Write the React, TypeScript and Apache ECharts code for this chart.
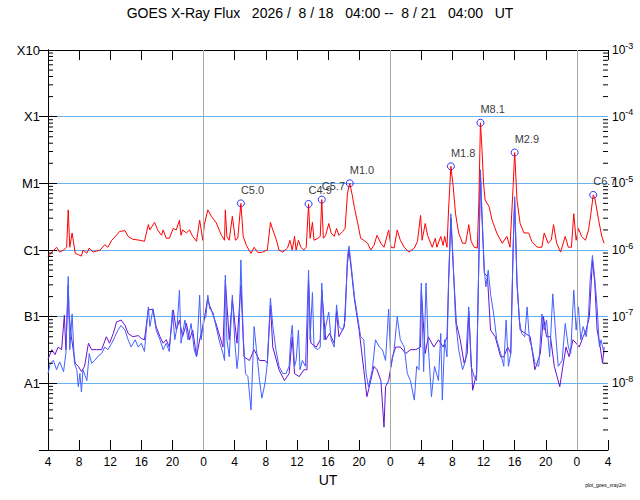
import React, { useRef, useEffect } from 'react';
import * as echarts from 'echarts';

// hours after 2026/8/18 04:00 UT, flux in W/m^2
const titleText = 'GOES X-Ray Flux   2026 /  8 / 18   04:00 --  8 / 21   04:00   UT';
const startHour = 4;
const dayStarts = [20, 44, 68];
const classNames = ['X10', 'X1', 'M1', 'C1', 'B1', 'A1', ''];
const powerNames = ['-3', '-4', '-5', '-6', '-7', '-8', ''];

// long channel (1-8 A), red
const longFlux = [
  [0.0, 7.9e-7], [0.5, 9.3e-7], [1.1, 1.1e-6], [1.5, 9.3e-7], [2.0, 1.0e-6], [2.4, 1.1e-6], [2.6, 4.0e-6],
  [2.8, 1.1e-6], [3.1, 1.8e-6], [3.5, 8.9e-7], [3.9, 8.5e-7], [4.3, 8.1e-7], [4.5, 1.0e-6], [5.0, 8.9e-7],
  [5.3, 1.07e-6], [5.8, 9.3e-7], [6.7, 1.0e-6], [7.3, 1.2e-6], [7.7, 1.1e-6], [8.2, 1.4e-6], [8.8, 1.66e-6],
  [9.2, 1.9e-6], [9.9, 1.95e-6], [10.3, 1.6e-6], [10.9, 1.45e-6], [11.8, 1.4e-6], [12.4, 1.35e-6], [12.9, 2.4e-6],
  [13.1, 2.0e-6], [13.7, 2.6e-6], [14.1, 2.0e-6], [14.6, 1.66e-6], [14.8, 2.0e-6], [15.2, 1.5e-6], [15.6, 1.5e-6],
  [16.1, 2.1e-6], [16.5, 2.0e-6], [16.9, 2.8e-6], [17.1, 1.66e-6], [17.3, 2.0e-6], [17.8, 1.8e-6], [18.2, 2.0e-6],
  [18.6, 1.6e-6], [19.1, 1.35e-6], [19.5, 2.8e-6], [19.7, 2.0e-6], [19.9, 1.4e-6], [20.1, 2.4e-6], [20.55, 4.0e-6],
  [21.0, 3.2e-6], [21.6, 2.6e-6], [22.3, 1.66e-6], [22.7, 1.4e-6], [22.8, 4.0e-6], [23.0, 1.6e-6], [23.3, 1.4e-6],
  [23.7, 3.2e-6], [24.1, 1.4e-6], [24.4, 1.5e-6], [24.8, 5.0e-6], [25.1, 1.6e-6], [25.5, 1.17e-6], [26.1, 8.9e-7],
  [26.5, 1.1e-6], [27.0, 9.1e-7], [27.6, 9.3e-7], [28.2, 1.0e-6], [28.6, 2.6e-6], [28.9, 2.0e-6], [29.3, 1.5e-6],
  [29.7, 1.0e-6], [30.2, 9.3e-7], [30.8, 1.07e-6], [31.1, 1.4e-6], [31.4, 1.0e-6], [31.7, 1.6e-6], [31.9, 1.0e-6],
  [32.2, 1.4e-6], [32.5, 1.1e-6], [32.9, 1.0e-6], [33.2, 1.1e-6], [33.5, 4.9e-6], [33.7, 1.5e-6], [34.0, 2.6e-6],
  [34.2, 1.4e-6], [34.7, 1.5e-6], [35.0, 1.6e-6], [35.2, 5.7e-6], [35.4, 1.5e-6], [35.7, 1.66e-6], [36.1, 2.5e-6],
  [36.4, 1.8e-6], [36.8, 1.6e-6], [37.1, 2.1e-6], [37.4, 1.66e-6], [37.9, 1.9e-6], [38.2, 2.1e-6], [38.5, 7.1e-6],
  [38.8, 1.0e-5], [39.1, 6.8e-6], [39.4, 4.3e-6], [39.8, 2.6e-6], [40.2, 1.5e-6], [40.6, 1.4e-6], [41.1, 1.26e-6],
  [41.5, 1.0e-6], [41.9, 1.17e-6], [42.3, 1.66e-6], [42.8, 1.26e-6], [43.2, 1.1e-6], [43.8, 2.0e-6], [44.1, 1.1e-6],
  [44.5, 1.07e-6], [44.9, 2.0e-6], [45.3, 1.4e-6], [45.8, 1.1e-6], [46.4, 9.3e-7], [47.1, 1.07e-6], [47.5, 1.35e-6],
  [47.9, 3.3e-6], [48.1, 1.4e-6], [48.5, 2.5e-6], [48.8, 1.66e-6], [49.4, 1.1e-6], [49.8, 1.5e-6], [50.0, 1.1e-6],
  [50.5, 1.6e-6], [50.8, 1.17e-6], [51.0, 1.6e-6], [51.3, 1.1e-6], [51.5, 4.0e-6], [51.8, 1.8e-5], [52.1, 8.9e-6],
  [52.4, 3.5e-6], [52.8, 1.8e-6], [53.3, 1.26e-6], [53.7, 1.26e-6], [54.1, 2.4e-6], [54.4, 1.35e-6], [54.8, 1.1e-6],
  [55.2, 1.07e-6], [55.4, 5.6e-6], [55.6, 8.1e-5], [55.8, 3.2e-5], [56.0, 1.0e-5], [56.2, 5.6e-6], [56.7, 4.5e-6],
  [57.1, 2.8e-6], [57.7, 1.8e-6], [58.4, 1.26e-6], [59.0, 1.6e-6], [59.4, 1.1e-6], [59.8, 8.9e-6], [60.0, 2.9e-5],
  [60.3, 5.6e-6], [60.7, 2.5e-6], [61.2, 1.8e-6], [61.8, 1.8e-6], [62.2, 1.35e-6], [62.9, 1.1e-6], [63.5, 1.1e-6],
  [63.8, 1.8e-6], [64.3, 1.26e-6], [64.7, 1.4e-6], [65.0, 2.4e-6], [65.4, 1.26e-6], [65.9, 9.3e-7], [66.5, 1.6e-6],
  [66.9, 1.1e-6], [67.3, 1.1e-6], [67.6, 3.5e-6], [67.9, 1.4e-6], [68.2, 2.1e-6], [68.6, 1.6e-6], [69.1, 1.4e-6],
  [69.5, 2.0e-6], [69.8, 3.5e-6], [70.1, 6.7e-6], [70.3, 6.0e-6], [70.8, 2.8e-6], [71.2, 1.6e-6], [71.5, 1.26e-6],
];

// short channel (0.5-4 A), blue
const shortFlux = [
  [0.0, 1.4e-8], [0.3, 2.0e-8], [0.7, 2.2e-8], [1.1, 1.6e-8], [1.5, 2.1e-8], [2.0, 1.5e-8], [2.3, 2.8e-8],
  [2.6, 4.0e-7], [2.8, 3.2e-8], [3.1, 1.1e-7], [3.4, 2.0e-8], [3.7, 1.6e-8], [3.9, 8.9e-9], [4.1, 1.4e-8],
  [4.3, 7.4e-9], [4.5, 1.6e-8], [5.0, 1.1e-8], [5.3, 2.8e-8], [5.6, 2.0e-8], [6.0, 2.2e-8], [6.5, 2.6e-8],
  [6.9, 2.8e-8], [7.3, 3.5e-8], [7.7, 3.2e-8], [8.2, 4.0e-8], [8.6, 5.0e-8], [9.0, 6.3e-8], [9.4, 7.4e-8],
  [9.9, 6.3e-8], [10.3, 4.5e-8], [10.7, 3.5e-8], [11.2, 4.5e-8], [11.6, 3.5e-8], [12.0, 4.0e-8], [12.4, 3.0e-8],
  [12.9, 1.4e-7], [13.1, 7.1e-8], [13.5, 1.3e-7], [13.9, 6.3e-8], [14.4, 4.5e-8], [14.8, 3.2e-8], [15.2, 4.0e-8],
  [15.6, 3.0e-8], [16.0, 1.26e-7], [16.3, 4.5e-8], [16.6, 7.1e-8], [16.9, 2.5e-7], [17.1, 4.0e-8], [17.6, 8.9e-8],
  [18.0, 4.5e-8], [18.4, 7.9e-8], [18.8, 3.2e-8], [19.1, 2.5e-8], [19.5, 2.1e-7], [19.7, 4.5e-8], [20.0, 8.9e-8],
  [20.3, 1.0e-7], [20.55, 2.1e-7], [20.8, 1.3e-7], [21.2, 1.17e-7], [21.6, 7.1e-8], [22.1, 4.0e-8], [22.5, 2.8e-8],
  [22.7, 2.2e-8], [22.8, 4.2e-7], [23.0, 4.5e-8], [23.3, 2.5e-8], [23.7, 2.1e-7], [24.0, 4.5e-8], [24.3, 1.66e-8],
  [24.5, 2.8e-8], [24.8, 7.1e-7], [25.1, 5.0e-8], [25.4, 1.4e-8], [25.7, 1.26e-8], [26.1, 4.0e-9], [26.5, 7.1e-8],
  [26.8, 3.2e-8], [27.2, 1.1e-8], [27.5, 6.0e-9], [27.9, 1.0e-8], [28.2, 2.0e-8], [28.6, 1.9e-7], [28.9, 7.4e-8],
  [29.3, 3.2e-8], [29.7, 1.8e-8], [30.2, 1.4e-8], [30.6, 1.4e-8], [31.0, 1.8e-8], [31.2, 4.5e-8], [31.4, 7.4e-8],
  [31.7, 1.8e-8], [31.9, 2.2e-8], [32.2, 6.3e-8], [32.4, 1.6e-8], [32.7, 2.2e-8], [33.1, 1.8e-8], [33.5, 5.0e-7],
  [33.7, 4.5e-8], [34.0, 2.3e-7], [34.2, 3.5e-8], [34.7, 3.2e-8], [35.0, 3.5e-8], [35.2, 3.2e-7], [35.5, 4.5e-8],
  [35.7, 7.1e-8], [36.1, 1.17e-7], [36.4, 4.5e-8], [36.8, 3.5e-8], [37.1, 1.5e-7], [37.4, 7.1e-8], [37.9, 6.3e-8],
  [38.2, 8.9e-8], [38.5, 7.9e-7], [38.7, 1.15e-6], [39.0, 5.6e-7], [39.4, 2.0e-7], [39.8, 1.0e-7], [40.2, 5.0e-8],
  [40.6, 4.5e-8], [40.9, 1.4e-8], [41.2, 8.9e-9], [41.7, 1.6e-8], [42.1, 4.5e-8], [42.6, 3.5e-8], [43.0, 3.2e-8],
  [43.4, 2.2e-8], [43.8, 1.3e-7], [44.1, 1.8e-8], [44.5, 3.2e-8], [44.9, 1.0e-7], [45.3, 4.5e-8], [45.8, 3.5e-8],
  [46.2, 1.4e-8], [46.6, 1.1e-8], [47.1, 5.6e-9], [47.4, 1.8e-8], [47.7, 1.6e-8], [48.0, 3.2e-7], [48.3, 1.5e-8],
  [48.6, 3.2e-7], [48.9, 3.5e-8], [49.3, 6.3e-9], [49.7, 1.8e-8], [50.2, 1.1e-8], [50.5, 5.6e-8], [50.7, 5.6e-9],
  [51.0, 4.5e-8], [51.3, 2.5e-8], [51.5, 3.5e-7], [51.8, 3.5e-6], [52.1, 6.3e-7], [52.4, 8.9e-8], [52.8, 3.2e-8],
  [53.3, 1.6e-8], [53.7, 2.2e-8], [54.1, 1.4e-7], [54.4, 1.8e-8], [54.8, 1.26e-8], [55.1, 1.1e-8], [55.4, 7.9e-7],
  [55.6, 1.6e-5], [55.8, 3.5e-6], [56.1, 5.0e-7], [56.3, 2.8e-7], [56.6, 5.0e-7], [56.9, 2.2e-7], [57.3, 1.1e-7],
  [57.7, 4.5e-8], [58.2, 2.8e-8], [58.6, 1.8e-8], [58.9, 8.9e-8], [59.2, 1.8e-8], [59.5, 2.8e-8], [59.8, 1.1e-6],
  [60.0, 6.3e-6], [60.3, 3.5e-7], [60.6, 8.9e-8], [60.9, 5.6e-8], [61.3, 5.0e-8], [61.6, 1.4e-7], [61.9, 4.5e-8],
  [62.2, 3.5e-8], [62.6, 2.0e-8], [63.1, 1.8e-8], [63.5, 1.1e-7], [63.8, 6.3e-8], [64.1, 8.9e-8], [64.5, 2.5e-8],
  [64.9, 2.2e-7], [65.3, 5.0e-8], [65.6, 1.8e-8], [66.1, 2.2e-8], [66.5, 7.9e-8], [66.9, 3.5e-8], [67.2, 2.8e-8],
  [67.6, 2.5e-7], [67.9, 6.3e-8], [68.2, 1.4e-7], [68.5, 4.5e-8], [68.8, 7.1e-8], [69.2, 5.0e-8], [69.5, 1.1e-7],
  [69.7, 3.5e-7], [70.0, 8.3e-7], [70.3, 3.7e-7], [70.6, 1.4e-7], [70.9, 3.5e-8], [71.1, 4.5e-8], [71.5, 2.8e-8],
];

// short channel, second satellite, purple
const shortFlux2 = [
  [0.0, 2.3e-8], [0.5, 3.2e-8], [0.9, 2.7e-8], [1.3, 3.5e-8], [1.75, 3.2e-8], [2.1, 1.05e-7], [2.3, 3.2e-8],
  [2.6, 3.0e-7], [2.7, 1.1e-7], [3.0, 5.0e-8], [3.5, 2.0e-8], [3.9, 1.8e-8], [4.3, 1.5e-8], [4.7, 1.8e-8],
  [5.2, 4.0e-8], [5.6, 3.2e-8], [6.2, 3.2e-8], [6.9, 3.2e-8], [7.5, 5.0e-8], [7.9, 4.0e-8], [8.4, 5.6e-8],
  [8.8, 8.3e-8], [9.4, 8.9e-8], [9.9, 7.4e-8], [10.3, 5.6e-8], [10.9, 5.0e-8], [11.6, 5.2e-8], [12.0, 4.7e-8],
  [12.4, 4.5e-8], [12.9, 1.26e-7], [13.5, 1.3e-7], [13.9, 7.1e-8], [14.4, 5.0e-8], [14.8, 4.0e-8], [15.2, 4.5e-8],
  [15.6, 3.5e-8], [16.1, 1.26e-7], [16.5, 6.3e-8], [16.9, 8.9e-8], [17.3, 5.0e-8], [17.8, 7.9e-8], [18.2, 4.5e-8],
  [18.6, 6.3e-8], [19.1, 2.5e-8], [19.5, 4.5e-8], [20.0, 7.9e-8], [20.5, 1.8e-7], [21.0, 1.26e-7], [21.6, 7.9e-8],
  [22.1, 5.0e-8], [22.5, 3.5e-8], [22.8, 3.5e-7], [23.3, 4.5e-8], [23.7, 1.8e-7], [24.3, 4.0e-8], [24.8, 3.0e-7],
  [25.2, 2.5e-8], [25.9, 2.2e-8], [26.5, 3.2e-8], [27.2, 2.2e-8], [27.9, 2.2e-8], [28.2, 2.0e-8], [28.6, 1.5e-7],
  [28.9, 3.5e-8], [29.7, 1.6e-8], [30.4, 1.1e-8], [31.0, 1.4e-8], [31.4, 5.0e-8], [31.7, 1.4e-8], [32.3, 1.26e-8],
  [32.9, 1.6e-8], [33.3, 1.6e-8], [33.5, 3.5e-7], [33.8, 4.0e-8], [34.5, 3.5e-8], [35.0, 4.5e-8], [35.2, 2.5e-7],
  [35.7, 4.5e-8], [36.2, 5.6e-8], [36.8, 4.0e-8], [37.1, 1.2e-7], [37.4, 5.0e-8], [38.1, 7.1e-8], [38.5, 6.3e-7],
  [38.7, 1.0e-6], [39.0, 5.0e-7], [39.4, 1.8e-7], [40.0, 6.3e-8], [40.6, 1.6e-8], [41.0, 6.3e-9], [41.5, 1.1e-8],
  [41.9, 1.8e-8], [42.3, 1.6e-8], [42.8, 1.1e-8], [43.2, 2.2e-9], [43.4, 8.9e-9], [43.8, 1.1e-8], [44.3, 2.5e-8],
  [44.7, 3.5e-8], [45.3, 3.5e-8], [46.0, 2.8e-8], [46.6, 3.2e-8], [47.3, 3.2e-8], [47.9, 3.5e-8], [48.0, 2.5e-7],
  [48.5, 2.8e-8], [48.9, 5.0e-8], [49.6, 3.5e-8], [50.2, 4.5e-8], [50.8, 3.5e-8], [51.3, 5.0e-8], [51.5, 3.0e-7],
  [51.8, 3.0e-6], [52.1, 5.6e-7], [52.5, 8.0e-8], [53.0, 4.5e-8], [53.5, 2.0e-8], [53.9, 2.8e-8], [54.1, 1.2e-7],
  [54.6, 7.9e-9], [55.1, 1.4e-8], [55.4, 7.0e-7], [55.6, 1.4e-5], [55.8, 3.0e-6], [56.1, 4.5e-7], [56.5, 4.0e-7],
  [56.9, 6.3e-8], [57.5, 5.0e-8], [58.2, 2.5e-8], [58.6, 2.5e-8], [59.1, 3.5e-8], [59.5, 2.8e-8], [59.8, 1.0e-6],
  [60.0, 5.5e-6], [60.3, 3.0e-7], [60.7, 6.3e-8], [61.4, 5.6e-8], [62.0, 5.0e-8], [62.6, 1.6e-8], [63.3, 2.8e-8],
  [63.7, 1.0e-7], [64.1, 5.0e-8], [64.6, 5.0e-8], [65.1, 1.8e-8], [65.8, 8.9e-9], [66.2, 1.8e-8], [66.6, 3.5e-8],
  [67.0, 2.5e-8], [67.5, 4.5e-8], [67.9, 4.0e-8], [68.3, 3.5e-8], [68.8, 5.0e-8], [69.2, 6.3e-8], [69.6, 1.0e-7],
  [70.0, 7.0e-7], [70.3, 3.2e-7], [70.6, 6.3e-8], [71.0, 3.5e-8], [71.3, 2.0e-8], [71.5, 3.5e-8],
];

const flareHours = [24.8, 33.5, 35.2, 38.8, 51.8, 55.6, 60.0, 70.1];
const flareFlux = [5.0e-6, 4.9e-6, 5.7e-6, 1.0e-5, 1.8e-5, 8.1e-5, 2.9e-5, 6.7e-6];
const flareClass = ['C5.0', 'C4.9', 'C5.7', 'M1.0', 'M1.8', 'M8.1', 'M2.9', 'C6.7'];

const font = 'Liberation Sans, Arial, sans-serif';
const gridLeft = 48;
const gridRight = 32;

const decade = (v: number) => -3 - Math.round(Math.log10(v));

// minor log ticks (2..9 in each decade)
const minorTicks: number[] = [];
for (let e = -9; e < -3; e++) {
  for (let k = 2; k <= 9; k++) minorTicks.push(k * Math.pow(10, e));
}

const creditText = {
  type: 'text',
  id: 'credit',
  right: 14,
  bottom: 13,
  style: { text: 'plot_goes_xray2m', fontSize: 5, fontFamily: font, fill: '#000' },
};

const XrayChart = () => {
  const chartRef = useRef(null);

  useEffect(() => {
    document.body.style.margin = '0';
    const myChart = echarts.init(chartRef.current, null, { renderer: 'svg' });

    const yBase = {
      type: 'log',
      logBase: 10,
      min: 1e-9,
      max: 1e-3,
      axisLine: { show: true, lineStyle: { color: '#000', width: 1 } },
      axisTick: { show: true, inside: true, length: 9, lineStyle: { color: '#000', width: 1 } },
    };
    const xBase = {
      type: 'value',
      min: 0,
      max: 72,
      interval: 4,
      axisLine: { show: true, onZero: false, lineStyle: { color: '#000', width: 1 } },
      axisTick: { show: true, inside: true, length: 10, lineStyle: { color: '#000', width: 1 } },
      splitLine: { show: false },
    };

    const option = {
      animation: false,
      backgroundColor: '#fff',
      title: {
        text: titleText,
        left: 'center',
        top: 1,
        textStyle: { fontFamily: font, fontSize: 14, fontWeight: 'normal', color: '#000' },
      },
      grid: { left: gridLeft, right: gridRight, top: 50, bottom: 50 },
      xAxis: [
        {
          ...xBase,
          position: 'bottom',
          name: 'UT',
          nameLocation: 'middle',
          nameGap: 22,
          nameTextStyle: { fontFamily: font, fontSize: 14, color: '#000' },
          axisLabel: {
            color: '#000',
            fontFamily: font,
            fontSize: 12,
            margin: 6,
            formatter: (v: number) => String((v + startHour) % 24),
          },
        },
        { ...xBase, position: 'top', axisLabel: { show: false } },
      ],
      yAxis: [
        {
          ...yBase,
          position: 'left',
          splitLine: { show: true, lineStyle: { color: '#66b2f2', width: 1 } },
          axisLabel: {
            color: '#000',
            fontFamily: font,
            fontSize: 13,
            margin: 8,
            formatter: (v: number) => classNames[decade(v)] ?? '',
          },
        },
        {
          ...yBase,
          position: 'right',
          splitLine: { show: false },
          axisLabel: {
            color: '#000',
            fontFamily: font,
            fontSize: 12,
            margin: 4,
            formatter: (v: number) => {
              const p = powerNames[decade(v)];
              return p ? `10{sup|${p}}` : '';
            },
            rich: { sup: { fontFamily: font, fontSize: 9, padding: [0, 0, 9, 0], color: '#000' } },
          },
        },
      ],
      graphic: [creditText],
      series: [
        {
          name: 'short2',
          type: 'line',
          data: shortFlux2,
          showSymbol: false,
          symbol: 'none',
          lineStyle: { color: '#6a0fcf', width: 1 },
          markLine: {
            silent: true,
            symbol: 'none',
            label: { show: false },
            lineStyle: { color: '#a8a8a8', width: 1, type: 'solid' },
            data: dayStarts.map((d) => ({ xAxis: d })),
          },
        },
        {
          name: 'short',
          type: 'line',
          data: shortFlux,
          showSymbol: false,
          symbol: 'none',
          lineStyle: { color: '#4262ff', width: 1 },
        },
        {
          name: 'long',
          type: 'line',
          data: longFlux,
          showSymbol: false,
          symbol: 'none',
          lineStyle: { color: '#ff0000', width: 1 },
        },
        {
          name: 'flares',
          type: 'scatter',
          data: flareHours.map((h, i) => [h, flareFlux[i]]),
          symbol: 'circle',
          symbolSize: 7,
          itemStyle: { color: 'rgba(0,0,0,0)', borderColor: '#0000ff', borderWidth: 1 },
          label: {
            show: true,
            position: 'top',
            align: 'left',
            distance: 4,
            color: '#000',
            fontFamily: font,
            fontSize: 11,
            formatter: (p: any) => flareClass[p.dataIndex],
          },
        },
      ],
    };

    myChart.setOption(option);

    // minor log ticks on both vertical axes, placed with the axis scale
    const x0 = gridLeft;
    const x1 = myChart.getWidth() - gridRight;
    const tickLines: any[] = [];
    minorTicks.forEach((v) => {
      const y = myChart.convertToPixel({ yAxisIndex: 0 }, v) as number;
      tickLines.push({
        type: 'line',
        z: 100,
        shape: { x1: x0, y1: y, x2: x0 + 5, y2: y },
        style: { stroke: '#000', lineWidth: 1 },
      });
      tickLines.push({
        type: 'line',
        z: 100,
        shape: { x1: x1 - 5, y1: y, x2: x1, y2: y },
        style: { stroke: '#000', lineWidth: 1 },
      });
    });
    myChart.setOption({ graphic: [creditText, ...tickLines] });

    return () => {
      myChart.dispose();
    };
  }, []);

  return <div ref={chartRef} style={{ width: '640px', height: '500px' }} />;
};

export default function App() {
  return <XrayChart />;
}
